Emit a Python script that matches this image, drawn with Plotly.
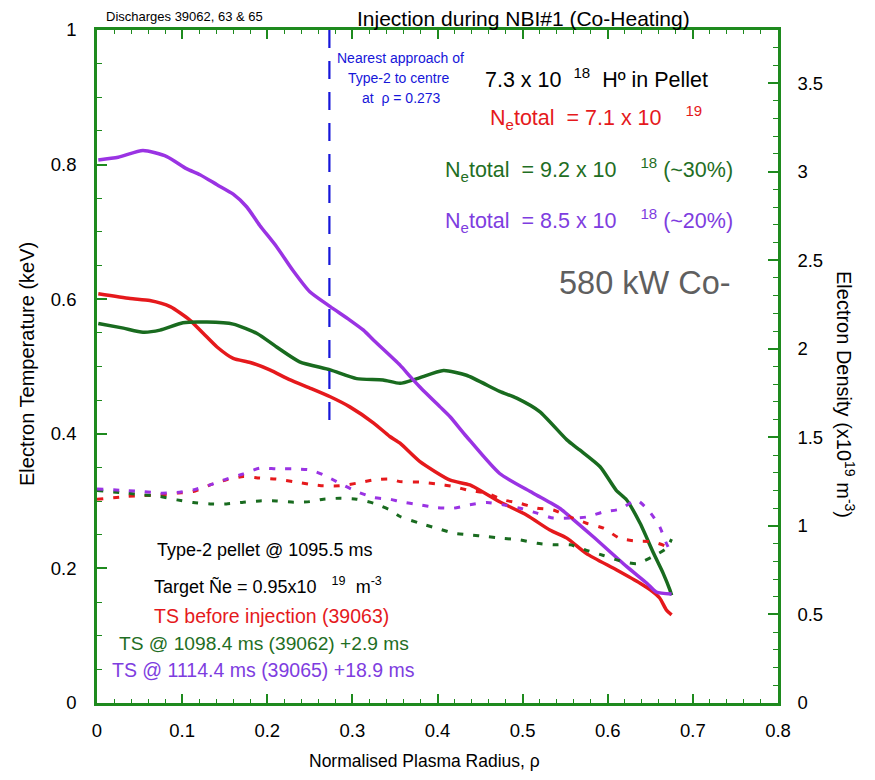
import plotly.graph_objects as go

# ---------------- data ----------------
rho_red_T = [0.0015, 0.039, 0.062, 0.086, 0.109, 0.125, 0.141, 0.160, 0.180, 0.203, 0.227, 0.250, 0.274, 0.297,
             0.325, 0.344, 0.356, 0.379, 0.415, 0.438, 0.473, 0.505, 0.532, 0.552, 0.575, 0.610, 0.638, 0.650,
             0.661, 0.669, 0.675]
te_red = [0.608, 0.601, 0.598, 0.589, 0.569, 0.549, 0.529, 0.512, 0.506, 0.495, 0.480, 0.468, 0.455, 0.440,
          0.416, 0.396, 0.386, 0.359, 0.331, 0.324, 0.299, 0.279, 0.257, 0.245, 0.222, 0.198, 0.178, 0.168,
          0.156, 0.138, 0.131]

rho_green_T = [0.0015, 0.031, 0.054, 0.074, 0.101, 0.129, 0.160, 0.188, 0.211, 0.238, 0.274, 0.305, 0.336,
               0.356, 0.376, 0.407, 0.434, 0.473, 0.493, 0.520, 0.552, 0.567, 0.591, 0.610, 0.622, 0.638,
               0.654, 0.665, 0.673, 0.675]
te_green = [0.564, 0.557, 0.551, 0.554, 0.565, 0.566, 0.563, 0.549, 0.529, 0.507, 0.495, 0.482, 0.480,
            0.475, 0.482, 0.494, 0.487, 0.463, 0.453, 0.433, 0.391, 0.376, 0.351, 0.316, 0.302, 0.267,
            0.222, 0.193, 0.168, 0.160]

rho_purple_T = [0.0015, 0.025, 0.054, 0.082, 0.105, 0.121, 0.141, 0.160, 0.176, 0.191, 0.211, 0.230, 0.250,
                0.274, 0.297, 0.313, 0.325, 0.356, 0.368, 0.379, 0.403, 0.415, 0.434, 0.473, 0.512, 0.544,
                0.560, 0.583, 0.622, 0.646, 0.657, 0.675]
te_purple = [0.807, 0.811, 0.821, 0.812, 0.794, 0.785, 0.770, 0.756, 0.737, 0.710, 0.678, 0.643, 0.611,
             0.589, 0.569, 0.554, 0.539, 0.502, 0.485, 0.470, 0.440, 0.425, 0.396, 0.341, 0.312, 0.289,
             0.272, 0.247, 0.203, 0.178, 0.165, 0.162]

rho_red_n = [0.0, 0.035, 0.054, 0.074, 0.094, 0.113, 0.133, 0.152, 0.172, 0.191, 0.211, 0.231, 0.250, 0.266,
             0.285, 0.305, 0.325, 0.344, 0.356, 0.379, 0.399, 0.419, 0.438, 0.458, 0.477, 0.497, 0.517,
             0.536, 0.556, 0.575, 0.595, 0.614, 0.634, 0.652, 0.669, 0.673]
ne_red = [1.150, 1.166, 1.171, 1.175, 1.185, 1.194, 1.232, 1.260, 1.279, 1.270, 1.264, 1.250, 1.235, 1.226,
          1.226, 1.241, 1.260, 1.264, 1.250, 1.247, 1.237, 1.222, 1.199, 1.185, 1.147, 1.128, 1.100,
          1.090, 1.050, 1.015, 0.987, 0.930, 0.914, 0.911, 0.883, 0.864]

rho_green_n = [0.0, 0.035, 0.054, 0.074, 0.094, 0.113, 0.133, 0.152, 0.172, 0.191, 0.211, 0.231, 0.250,
               0.266, 0.285, 0.305, 0.325, 0.344, 0.356, 0.379, 0.399, 0.419, 0.438, 0.458, 0.477, 0.497,
               0.517, 0.536, 0.556, 0.575, 0.595, 0.614, 0.634, 0.652, 0.669, 0.675]
ne_green = [1.200, 1.185, 1.175, 1.166, 1.147, 1.132, 1.124, 1.124, 1.134, 1.141, 1.141, 1.134, 1.137,
            1.151, 1.156, 1.151, 1.128, 1.090, 1.053, 1.015, 0.987, 0.959, 0.949, 0.940, 0.930, 0.921,
            0.902, 0.893, 0.893, 0.862, 0.833, 0.803, 0.787, 0.825, 0.874, 0.925]

rho_purple_n = [0.0, 0.035, 0.054, 0.074, 0.094, 0.113, 0.133, 0.152, 0.172, 0.191, 0.211, 0.231, 0.250,
                0.266, 0.285, 0.305, 0.325, 0.344, 0.356, 0.379, 0.399, 0.419, 0.438, 0.458, 0.477, 0.497,
                0.517, 0.536, 0.556, 0.575, 0.595, 0.614, 0.634, 0.649, 0.661, 0.668, 0.674]
ne_purple = [1.209, 1.199, 1.194, 1.185, 1.188, 1.203, 1.232, 1.264, 1.294, 1.326, 1.322, 1.322, 1.316,
             1.288, 1.241, 1.194, 1.160, 1.151, 1.137, 1.119, 1.103, 1.100, 1.119, 1.132, 1.119, 1.100,
             1.072, 1.044, 1.044, 1.050, 1.079, 1.094, 1.145, 1.081, 0.996, 0.911, 0.850]

rho_pellet = [0.273, 0.273]
te_pellet_line = [1.0, 0.405]

x_ticks = [0, 0.1, 0.2, 0.3, 0.4, 0.5, 0.6, 0.7, 0.8]
x_ticklabels = ["0", "0.1", "0.2", "0.3", "0.4", "0.5", "0.6", "0.7", "0.8"]
y_ticks = [0, 0.2, 0.4, 0.6, 0.8, 1.0]
y_ticklabels = ["0", "0.2", "0.4", "0.6", "0.8", "1"]
y2_ticks = [0, 0.5, 1, 1.5, 2, 2.5, 3, 3.5]
y2_ticklabels = ["0", "0.5", "1", "1.5", "2", "2.5", "3", "3.5"]

# ---------------- style ----------------
RED = "#e5191c"
GREEN_L = "#196b1f"
PURPLE_L = "#9a33e3"
GREEN_T = "#1f6e24"
PURPLE_T = "#7e3de0"
AXIS = "#1e8a1e"
BLUE = "#1616d9"
FONT = "Liberation Sans, Arial, sans-serif"

# page body has an 8px margin; figure sized to fit inside the 875x780 window
OFF = 8
W, H = 875 - 2 * OFF, 780 - 2 * OFF
L, R, T, B = 97, 778, 30, 703   # plot frame in window pixels


def px(xp):
    return (xp - L) / (R - L)


def py(yp):
    return (B - yp) / (B - T)


fig = go.Figure()

for xs, ys, c in [(rho_red_n, ne_red, RED), (rho_green_n, ne_green, GREEN_L),
                  (rho_purple_n, ne_purple, PURPLE_L)]:
    fig.add_trace(go.Scatter(x=xs, y=ys, mode="lines", yaxis="y2",
                             line=dict(color=c, width=3, dash="6px,10px", shape="spline", smoothing=0.6),
                             hoverinfo="skip"))

for xs, ys, c in [(rho_red_T, te_red, RED), (rho_green_T, te_green, GREEN_L),
                  (rho_purple_T, te_purple, PURPLE_L)]:
    fig.add_trace(go.Scatter(x=xs, y=ys, mode="lines",
                             line=dict(color=c, width=3.5, shape="spline", smoothing=0.6),
                             hoverinfo="skip"))

fig.add_trace(go.Scatter(x=rho_pellet, y=te_pellet_line, mode="lines",
                         line=dict(color=BLUE, width=2.2, dash="18px,13px"), hoverinfo="skip"))

tick_common = dict(ticks="inside", tickcolor=AXIS, tickwidth=1.6, showline=True, linecolor=AXIS,
                   linewidth=2.5, showgrid=False, zeroline=False, automargin=False,
                   tickfont=dict(family=FONT, size=18.5, color="black"))

fig.update_layout(
    width=W, height=H,
    margin=dict(l=L - OFF, r=W - (R - OFF), t=T - OFF, b=H - (B - OFF), pad=0),
    plot_bgcolor="white", paper_bgcolor="white",
    showlegend=False,
    font=dict(family=FONT, size=16, color="black"),
    xaxis=dict(range=[0, 0.8], tickvals=x_ticks, ticktext=x_ticklabels, ticklen=9, mirror="ticks",
               ticklabelstandoff=9,
               minor=dict(ticks="inside", ticklen=4, dtick=0.02, tickcolor=AXIS, tickwidth=1.4),
               **tick_common),
    yaxis=dict(range=[0, 1], tickvals=y_ticks, ticktext=y_ticklabels, ticklen=10,
               ticklabelstandoff=14,
               minor=dict(ticks="inside", ticklen=5, dtick=0.05, tickcolor=AXIS, tickwidth=1.4),
               **tick_common),
    yaxis2=dict(range=[0, 3.8], tickvals=y2_ticks, ticktext=y2_ticklabels, ticklen=10,
                overlaying="y", side="right", ticklabelstandoff=13,
                minor=dict(ticks="inside", ticklen=5, dtick=0.1, tickcolor=AXIS, tickwidth=1.4),
                **tick_common),
)

ann = []


def add(text, xp, yp, size, color="black", xanchor="left", angle=0):
    ann.append(dict(text=text, x=px(xp), y=py(yp), xref="paper", yref="paper", showarrow=False,
                    xanchor=xanchor, yanchor="middle", textangle=angle,
                    font=dict(family=FONT, size=size, color=color)))


add("Discharges 39062, 63 &amp; 65", 104, 16, 13)
add("Injection during NBI#1 (Co-Heating)", 523, 18, 21, xanchor="center")

add("Nearest approach of", 400, 58, 14, BLUE, xanchor="center")
add("Type-2 to centre", 398, 78, 14, BLUE, xanchor="center")
add("at  ρ = 0.273", 401, 98, 14, BLUE, xanchor="center")

add("7.3 x 10  <sup>18</sup>  Hº in Pellet", 483, 78, 21.5)
add("N<sub>e</sub>total  = 7.1 x 10    <sup>19</sup>", 488, 118, 21.5, RED)
add("N<sub>e</sub>total  = 9.2 x 10    <sup>18</sup> (~30%)", 443, 169, 21.5, GREEN_T)
add("N<sub>e</sub>total  = 8.5 x 10    <sup>18</sup> (~20%)", 443, 220, 21.5, PURPLE_T)
add("580 kW Co-", 557, 283, 32.5, "#5f5f5f")

add("Type-2 pellet @ 1095.5 ms", 155, 550, 18)
add("Target Ñe = 0.95x10   <sup>19</sup>  m<sup>-3</sup>", 152, 585, 18)
add("TS before injection (39063)", 152, 616, 19.5, RED)
add("TS @ 1098.4 ms (39062) +2.9 ms", 117, 643, 19.2, GREEN_T)
add("TS @ 1114.4 ms (39065) +18.9 ms", 110, 670, 19.5, PURPLE_T)

add("Electron Temperature (keV)", 27, 364, 20, xanchor="center", angle=-90)
add("Electron Density (x10<sup>19</sup> m<sup>-3</sup>)", 846, 394, 20, xanchor="center", angle=90)
add("Normalised Plasma Radius, ρ", 424, 761, 17.5, xanchor="center")

fig.update_layout(annotations=ann)

fig.write_html("out.html")
